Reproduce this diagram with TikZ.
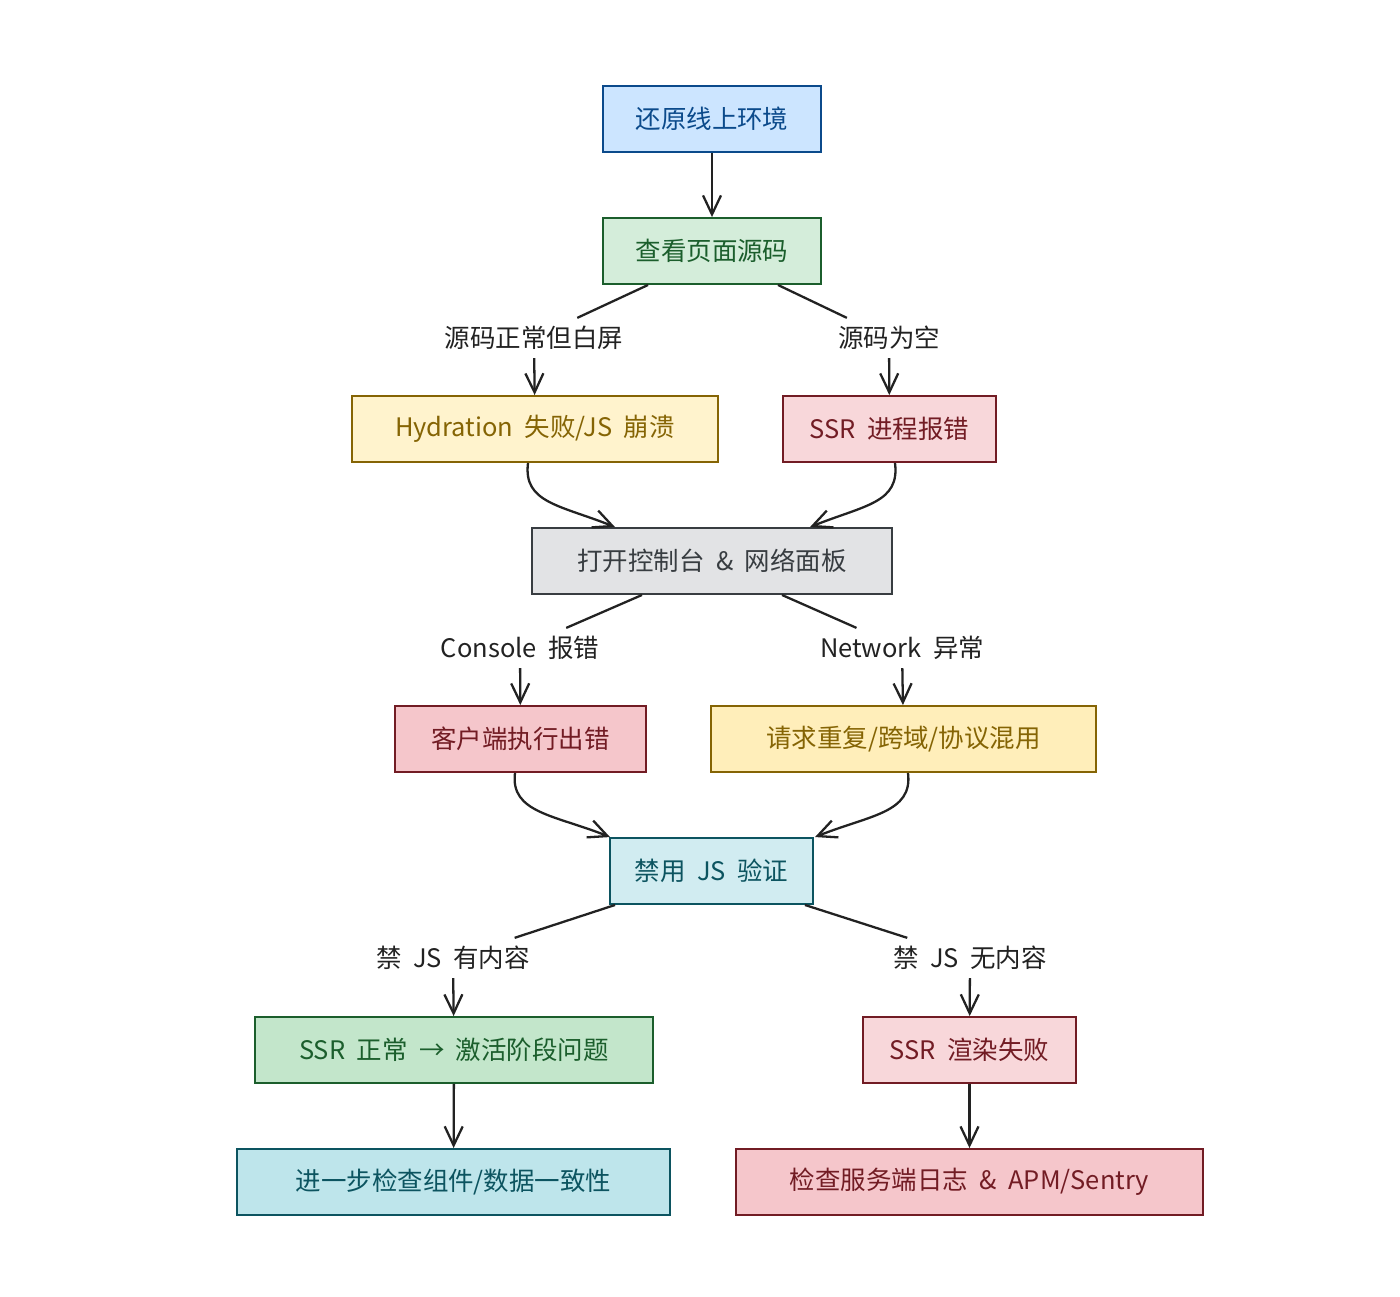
\documentclass[tikz,border=0pt]{standalone}
\usepackage{fontspec}
\setmainfont[WordSpace=2]{Noto Sans CJK SC}
\usetikzlibrary{arrows.meta}
\definecolor{ink}{HTML}{222222}
\definecolor{bluefill}{HTML}{CCE5FF}\definecolor{blueline}{HTML}{0B4A8B}
\definecolor{greenfill}{HTML}{D4EDDA}\definecolor{greenfilltwo}{HTML}{C3E6CB}\definecolor{greenline}{HTML}{1B5E2C}
\definecolor{yellowfill}{HTML}{FFF3CD}\definecolor{yellowfilltwo}{HTML}{FFEEBA}\definecolor{yellowline}{HTML}{856404}
\definecolor{redfill}{HTML}{F8D7DA}\definecolor{redfilltwo}{HTML}{F5C6CB}\definecolor{redline}{HTML}{721C24}
\definecolor{grayfill}{HTML}{E2E3E5}\definecolor{grayline}{HTML}{383D41}
\definecolor{tealfill}{HTML}{D1ECF1}\definecolor{tealfilltwo}{HTML}{BEE5EB}\definecolor{tealline}{HTML}{0C5460}
\begin{document}
\begin{tikzpicture}[x=0.02cm, y=-0.02cm,
    box/.style={draw, line width=1.1pt, minimum height=1.32cm, inner sep=0pt,
      font=\fontsize{14.5pt}{17pt}\selectfont},
    lbl/.style={text=ink, inner sep=0.16cm, font=\fontsize{14.5pt}{17pt}\selectfont},
    link/.style={draw=ink, line width=1.3pt},
    arr/.style={link, -{Straight Barb[length=3.8mm,width=3.6mm]}}]
        \useasboundingbox (0,0) rectangle (1400,1296);
        % boxes
        \node[box, fill=bluefill, draw=blueline, text=blueline, minimum width=4.36cm] (A) at (712,119) {还原线上环境};
        \node[box, fill=greenfill, draw=greenline, text=greenline, minimum width=4.36cm] (B) at (712,251) {查看页面源码};
        \node[box, fill=yellowfill, draw=yellowline, text=yellowline, minimum width=7.32cm] (C) at (535,429) {Hydration 失败/JS 崩溃};
        \node[box, fill=redfill, draw=redline, text=redline, minimum width=4.26cm] (D) at (889.5,429) {SSR 进程报错};
        \node[box, fill=grayfill, draw=grayline, text=grayline, minimum width=7.2cm] (E) at (712,561) {打开控制台 \& 网络面板};
        \node[box, fill=redfilltwo, draw=redline, text=redline, minimum width=5.02cm] (F) at (520.5,739) {客户端执行出错};
        \node[box, fill=yellowfilltwo, draw=yellowline, text=yellowline, minimum width=7.7cm] (G) at (903.5,739) {请求重复/跨域/协议混用};
        \node[box, fill=tealfill, draw=tealline, text=tealline, minimum width=4.06cm] (H) at (711.5,871) {禁用 JS 验证};
        \node[box, fill=greenfilltwo, draw=greenline, text=greenline, minimum width=7.96cm] (I) at (454,1050) {SSR 正常 → 激活阶段问题};
        \node[box, fill=redfill, draw=redline, text=redline, minimum width=4.26cm] (J) at (969.5,1050) {SSR 渲染失败};
        \node[box, fill=tealfilltwo, draw=tealline, text=tealline, minimum width=8.66cm] (K) at (453.5,1182) {进一步检查组件/数据一致性};
        \node[box, fill=redfilltwo, draw=redline, text=redline, minimum width=9.34cm] (L) at (969.5,1182) {检查服务端日志 \& APM/Sentry};
        % edge labels
        \node[lbl] (la) at (534,338) {源码正常但白屏};
        \node[lbl] (lb) at (889,338) {源码为空};
        \node[lbl] (lc) at (520,648) {Console 报错};
        \node[lbl] (ld) at (902,648) {Network 异常};
        \node[lbl] (le) at (453,958) {禁 JS 有内容};
        \node[lbl] (lf) at (970,958) {禁 JS 无内容};
        % connectors
        \draw[arr] (A) -- (B);
        \draw[link] ([xshift=-1.28cm]B.south) -- (la);
        \draw[arr] (la) -- (C);
        \draw[link] ([xshift=1.32cm]B.south) -- (lb);
        \draw[arr] (lb) -- (D);
        \draw[arr] ([xshift=-0.14cm]C.south) .. controls +(-5,40) and +(-55,-22) .. ([xshift=-1.94cm]E.north);
        \draw[arr] ([xshift=0.11cm]D.south) .. controls +(5,40) and +(55,-22) .. ([xshift=1.96cm]E.north);
        \draw[link] ([xshift=-1.4cm]E.south) -- (lc);
        \draw[arr] (lc) -- (F);
        \draw[link] ([xshift=1.4cm]E.south) -- (ld);
        \draw[arr] (ld) -- (G);
        \draw[arr] ([xshift=-0.11cm]F.south) .. controls +(-5,40) and +(-55,-22) .. ([xshift=-2.03cm]H.north);
        \draw[arr] ([xshift=0.09cm]G.south) .. controls +(5,40) and +(55,-22) .. ([xshift=2.07cm]H.north);
        \draw[link] ([xshift=-1.93cm]H.south) -- (le);
        \draw[arr] (le) -- (I);
        \draw[link] ([xshift=1.87cm]H.south) -- (lf);
        \draw[arr] (lf) -- (J);
        \draw[arr] (I) -- (K);
        \draw[arr] (J) -- (L);
    \end{tikzpicture}
\end{document}
